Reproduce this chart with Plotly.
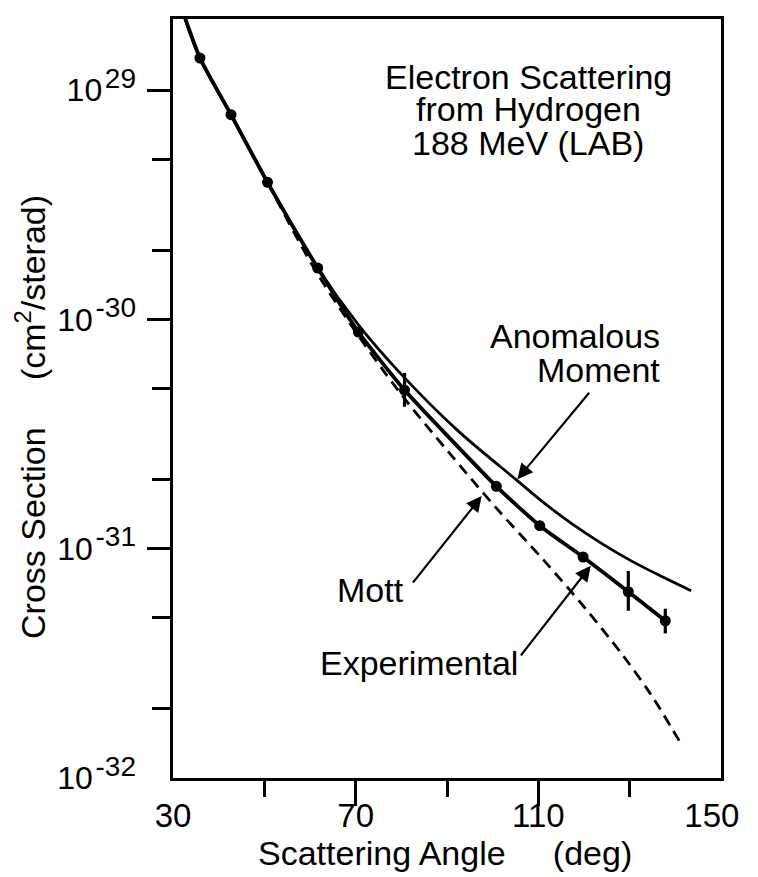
import plotly.graph_objects as go

# ---------------- data ----------------
exp_angle = [35.9, 42.7, 50.7, 61.7, 70.6, 80.7, 100.8, 110.3, 119.8, 129.7, 137.8]
exp_sigma = [1.38e-29, 7.81e-30, 3.96e-30, 1.675e-30, 8.8e-31, 4.92e-31,
             1.87e-31, 1.26e-31, 9.2e-32, 6.49e-32, 4.85e-32]
exp_err_plus = [0, 0, 0, 0, 0, 0.92e-31, 0, 0, 0, 1.5e-32, 0.62e-32]
exp_err_minus = [0, 0, 0, 0, 0, 0.76e-31, 0, 0, 0, 1.13e-32, 0.58e-32]

exp_line_angle = [31.7] + exp_angle
exp_line_sigma = [2.33e-29] + exp_sigma

anom_angle = [31.7, 35.9, 42.7, 50.7, 61.7, 70.6, 79.65, 92.3, 105.0,
              111.3, 117.7, 124.0, 130.35, 136.7, 143.45]
anom_sigma = [2.33e-29, 1.38e-29, 7.81e-30, 3.96e-30, 1.675e-30, 9.47e-31,
              5.86e-31, 3.28e-31, 2.01e-31, 1.58e-31, 1.27e-31, 1.05e-31,
              8.85e-32, 7.62e-32, 6.56e-32]

mott_angle = [31.7, 35.9, 42.7, 50.7, 60.6, 69.1, 79.65, 90.2, 100.8,
              111.3, 119.8, 128.2, 134.6, 140.9]
mott_sigma = [2.33e-29, 1.38e-29, 7.81e-30, 3.95e-30, 1.709e-30, 9.38e-31,
              4.80e-31, 2.66e-31, 1.504e-31, 8.85e-32, 5.64e-32, 3.49e-32,
              2.32e-32, 1.448e-32]

x_label_vals = [30, 70, 110, 150]
x_label_text = ["30", "70", "110", "150\u00a0\u00a0"]
x_major_ticks = [70, 110]
x_minor_ticks = [50, 90, 130]

y_label_vals = [1e-29, 1e-30, 1e-31, 1e-32]
y_label_text = ["10\u200a<sup><span style='font-size:28px'>29</span></sup>",
                "10\u200a<sup><span style='font-size:28px'>-30</span></sup>",
                "10\u200a<sup><span style='font-size:28px'>-31</span></sup>",
                "10\u200a<sup><span style='font-size:28px'>-32</span></sup>"]
y_major_ticks = [1e-29, 1e-30, 1e-31]
y_minor_ticks = [5e-30, 2e-30, 5e-31, 2e-31, 5e-32, 2e-32]

FONT = "Liberation Sans, Arial, Helvetica, sans-serif"
BLACK = "black"

fig = go.Figure()

fig.add_trace(go.Scatter(x=mott_angle, y=mott_sigma, mode="lines",
                         line=dict(color=BLACK, width=2.8, dash="11px,7px",
                                   shape="spline", smoothing=0.9),
                         hoverinfo="skip"))
fig.add_trace(go.Scatter(x=anom_angle, y=anom_sigma, mode="lines",
                         line=dict(color=BLACK, width=2.8, shape="spline",
                                   smoothing=0.9),
                         hoverinfo="skip"))
fig.add_trace(go.Scatter(x=exp_line_angle, y=exp_line_sigma, mode="lines",
                         line=dict(color=BLACK, width=3.8, shape="spline",
                                   smoothing=0.5),
                         hoverinfo="skip"))
fig.add_trace(go.Scatter(x=exp_angle, y=exp_sigma, mode="markers",
                         marker=dict(color=BLACK, size=11),
                         error_y=dict(type="data", symmetric=False,
                                      array=exp_err_plus,
                                      arrayminus=exp_err_minus,
                                      color=BLACK, thickness=3.2, width=0),
                         hoverinfo="skip"))
# invisible trace carrying the label-only axes
fig.add_trace(go.Scatter(x=[None], y=[None], xaxis="x2", yaxis="y2",
                         mode="markers", showlegend=False, hoverinfo="skip"))

xr = [30, 150]
yr = [-32, -28.69]

fig.update_layout(
    width=758, height=877,
    margin=dict(l=165, r=25, t=8, b=107),
    paper_bgcolor="white", plot_bgcolor="white",
    showlegend=False,
    font=dict(family=FONT, size=33, color=BLACK),
    xaxis=dict(range=xr, showgrid=False, zeroline=False,
               showline=True, linewidth=3, linecolor=BLACK, mirror=True,
               tickmode="array", tickvals=x_major_ticks,
               showticklabels=False,
               ticks="outside", ticklen=25, tickwidth=2.5, tickcolor=BLACK,
               minor=dict(tickmode="array", tickvals=x_minor_ticks,
                          ticks="outside", ticklen=16, tickwidth=2.5,
                          tickcolor=BLACK, showgrid=False)),
    yaxis=dict(type="log", range=yr, showgrid=False, zeroline=False,
               showline=True, linewidth=3, linecolor=BLACK, mirror=True,
               tickmode="array", tickvals=y_major_ticks,
               showticklabels=False,
               ticks="outside", ticklen=23, tickwidth=2.5, tickcolor=BLACK,
               minor=dict(tickmode="array", tickvals=y_minor_ticks,
                          ticks="outside", ticklen=18, tickwidth=2.5,
                          tickcolor=BLACK, showgrid=False)),
    xaxis2=dict(range=xr, overlaying="x", anchor="y2", side="bottom",
                showgrid=False, zeroline=False, showline=False,
                tickmode="array", tickvals=x_label_vals,
                ticktext=x_label_text, ticks="", ticklabelstandoff=15,
                ticklabeloverflow="allow",
                tickfont=dict(family=FONT, size=33, color=BLACK)),
    yaxis2=dict(type="log", range=yr, overlaying="y", anchor="x2", side="left",
                showgrid=False, zeroline=False, showline=False,
                tickmode="array", tickvals=y_label_vals,
                ticktext=y_label_text, ticks="", ticklabelstandoff=36,
                ticklabeloverflow="allow",
                tickfont=dict(family=FONT, size=32, color=BLACK)),
)

def txt(text, x, y, xanchor="center", size=34, angle=0):
    fig.add_annotation(text=text, x=x, y=y, xref="paper", yref="paper",
                       xanchor=xanchor, yanchor="middle", showarrow=False,
                       textangle=angle,
                       font=dict(family=FONT, size=size, color=BLACK))

def arrow(x, y, ax, ay):
    fig.add_annotation(text="", x=x, y=y, xref="paper", yref="paper",
                       ax=ax, ay=ay, showarrow=True, arrowhead=2,
                       arrowsize=1.4, arrowwidth=2.2, arrowcolor=BLACK)

# title block
txt("Electron Scattering", 0.648, 0.924)
txt("from Hydrogen", 0.648, 0.881)
txt("188 MeV (LAB)", 0.648, 0.837)

# curve labels
txt("Anomalous", 0.893, 0.583, xanchor="right")
txt("Moment", 0.893, 0.537, xanchor="right")
txt("Mott", 0.295, 0.248, xanchor="left")
txt("Experimental", 0.264, 0.152, xanchor="left")

arrow(0.6285, 0.3937, 73, -88)
arrow(0.5634, 0.3714, -70, 88)
arrow(0.7623, 0.2795, -71, 91)

# axis titles
txt("Scattering Angle\u00a0\u00a0\u00a0\u00a0\u00a0(deg)", 0.4956, -0.0985)
txt("Cross Section\u00a0\u00a0\u00a0\u00a0\u00a0(cm<sup>2</sup>/sterad)",
    -0.2605, 0.476, angle=-90)

fig.write_html("out.html")
